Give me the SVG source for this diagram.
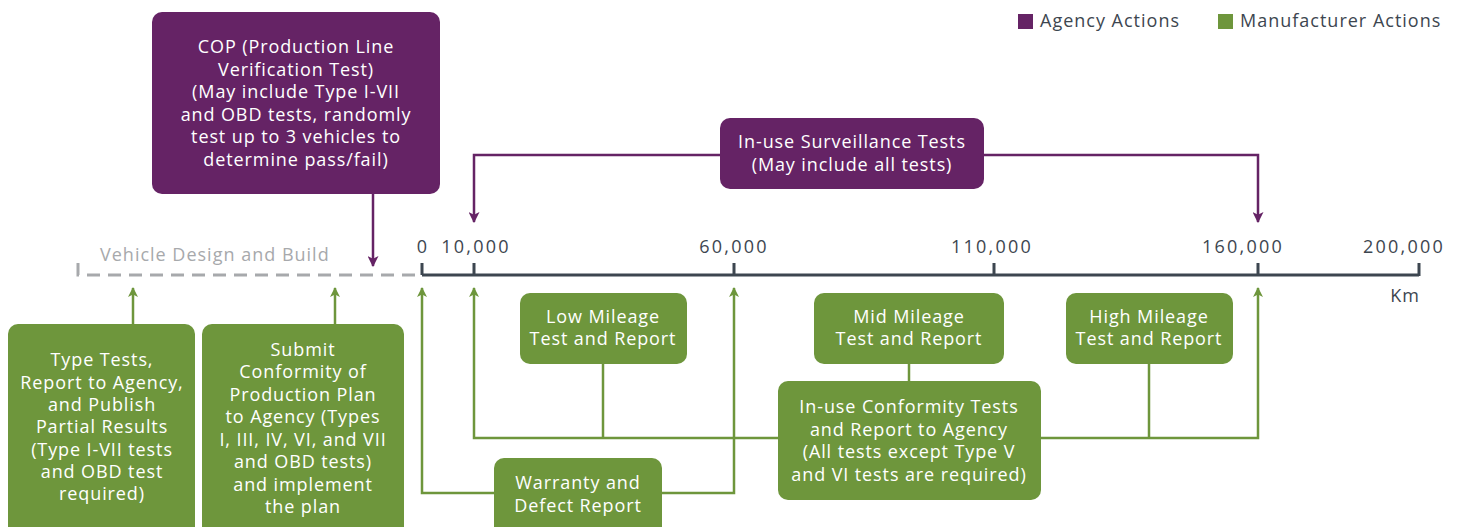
<svg xmlns="http://www.w3.org/2000/svg" width="1460" height="527" viewBox="0 0 1460 527">
<defs>
<style>
.ag{fill:#652365}
.mf{fill:#6e963c}
.bt{font-family:"Open Sans","Liberation Sans",sans-serif;font-size:18px;letter-spacing:0.9px;fill:#ffffff;text-anchor:middle}
.lab{font-family:"Open Sans","Liberation Sans",sans-serif;font-size:18px;letter-spacing:1px;fill:#3d4650}
.num{letter-spacing:2.2px;text-anchor:middle}
.gl{fill:none;stroke:#6e963c;stroke-width:2.5}
.pl{fill:none;stroke:#652365;stroke-width:2.5}
</style>
<marker id="ga" viewBox="0 0 10 10" refX="9" refY="5" markerWidth="10" markerHeight="10" markerUnits="userSpaceOnUse" orient="auto"><path d="M0,0 L10,5 L0,10 L2.5,5 Z" fill="#6e963c"/></marker>
<marker id="pa" viewBox="0 0 10 10" refX="9" refY="5" markerWidth="11" markerHeight="11" markerUnits="userSpaceOnUse" orient="auto"><path d="M0,0 L10,5 L0,10 L2.5,5 Z" fill="#652365"/></marker>
</defs>
<rect width="1460" height="527" fill="#ffffff"/>

<g id="legend">
<rect x="1018" y="14" width="15" height="15" class="ag"/>
<text x="1040" y="27" class="lab">Agency Actions</text>
<rect x="1218" y="14" width="15" height="15" class="mf"/>
<text x="1240" y="27" class="lab">Manufacturer Actions</text>
</g>

<g id="axis">
<path d="M78,263 V275 H422" fill="none" stroke="#a7a9ac" stroke-width="3" stroke-dasharray="13,8"/>
<path d="M422,275 H1419 M422,263 V275 M474,263 V275 M734,263 V275 M994,263 V275 M1258,263 V275 M1419,263 V276" fill="none" stroke="#3d4650" stroke-width="3"/>
<text x="100" y="261" class="lab" style="fill:#a7a9ac">Vehicle Design and Build</text>
<text x="423" y="253" class="lab num">0</text>
<text x="476" y="253" class="lab num">10,000</text>
<text x="734" y="253" class="lab num">60,000</text>
<text x="992" y="253" class="lab num">110,000</text>
<text x="1243" y="253" class="lab num">160,000</text>
<text x="1404" y="253" class="lab num">200,000</text>
<text x="1420" y="302" class="lab" text-anchor="end">Km</text>
</g>

<g id="connectors">
<path class="pl" d="M373,194 V266" marker-end="url(#pa)"/>
<path class="pl" d="M720,155 H474 V222" marker-end="url(#pa)"/>
<path class="pl" d="M984,155 H1258 V222" marker-end="url(#pa)"/>
<path class="gl" d="M133,324 V288" marker-end="url(#ga)"/>
<path class="gl" d="M335,324 V288" marker-end="url(#ga)"/>
<path class="gl" d="M494,493 H422 V288" marker-end="url(#ga)"/>
<path class="gl" d="M662,493 H734 V288" marker-end="url(#ga)"/>
<path class="gl" d="M778,438 H474 V288" marker-end="url(#ga)"/>
<path class="gl" d="M1041,438 H1258 V288" marker-end="url(#ga)"/>
<path class="gl" d="M603,364 V438"/>
<path class="gl" d="M909,364 V381"/>
<path class="gl" d="M1149,364 V438"/>
</g>

<g id="cop">
<rect x="152" y="12" width="288" height="182" rx="10" class="ag"/>
<text class="bt"><tspan x="296" y="53">COP (Production Line</tspan><tspan x="296" y="76">Verification Test)</tspan><tspan x="296" y="98">(May include Type I-VII</tspan><tspan x="296" y="121">and OBD tests, randomly</tspan><tspan x="296" y="143">test up to 3 vehicles to</tspan><tspan x="296" y="166">determine pass/fail)</tspan></text>
</g>

<g id="surveillance">
<rect x="720" y="118" width="264" height="71" rx="10" class="ag"/>
<text class="bt"><tspan x="852" y="148">In-use Surveillance Tests</tspan><tspan x="852" y="171">(May include all tests)</tspan></text>
</g>

<g id="typetests">
<rect x="8" y="324" width="187" height="215" rx="10" class="mf"/>
<text class="bt"><tspan x="102" y="366">Type Tests,</tspan><tspan x="102" y="389">Report to Agency,</tspan><tspan x="102" y="411">and Publish</tspan><tspan x="102" y="433">Partial Results</tspan><tspan x="102" y="456">(Type I-VII tests</tspan><tspan x="102" y="478">and OBD test</tspan><tspan x="102" y="500">required)</tspan></text>
</g>

<g id="submit">
<rect x="202" y="324" width="202" height="215" rx="10" class="mf"/>
<text class="bt"><tspan x="303" y="356">Submit</tspan><tspan x="303" y="378">Conformity of</tspan><tspan x="303" y="401">Production Plan</tspan><tspan x="303" y="423">to Agency (Types</tspan><tspan x="303" y="446">I, III, IV, VI, and VII</tspan><tspan x="303" y="468">and OBD tests)</tspan><tspan x="303" y="491">and implement</tspan><tspan x="303" y="513">the plan</tspan></text>
</g>

<g id="low">
<rect x="520" y="293" width="167" height="71" rx="10" class="mf"/>
<text class="bt"><tspan x="603" y="323">Low Mileage</tspan><tspan x="603" y="345">Test and Report</tspan></text>
</g>

<g id="mid">
<rect x="814" y="293" width="190" height="71" rx="10" class="mf"/>
<text class="bt"><tspan x="909" y="323">Mid Mileage</tspan><tspan x="909" y="345">Test and Report</tspan></text>
</g>

<g id="high">
<rect x="1066" y="293" width="167" height="71" rx="10" class="mf"/>
<text class="bt"><tspan x="1149" y="323">High Mileage</tspan><tspan x="1149" y="345">Test and Report</tspan></text>
</g>

<g id="conformity">
<rect x="778" y="381" width="263" height="119" rx="10" class="mf"/>
<text class="bt"><tspan x="909" y="413">In-use Conformity Tests</tspan><tspan x="909" y="436">and Report to Agency</tspan><tspan x="909" y="458">(All tests except Type V</tspan><tspan x="909" y="481">and VI tests are required)</tspan></text>
</g>

<g id="warranty">
<rect x="494" y="458" width="168" height="80" rx="10" class="mf"/>
<text class="bt"><tspan x="578" y="489">Warranty and</tspan><tspan x="578" y="512">Defect Report</tspan></text>
</g>
</svg>
